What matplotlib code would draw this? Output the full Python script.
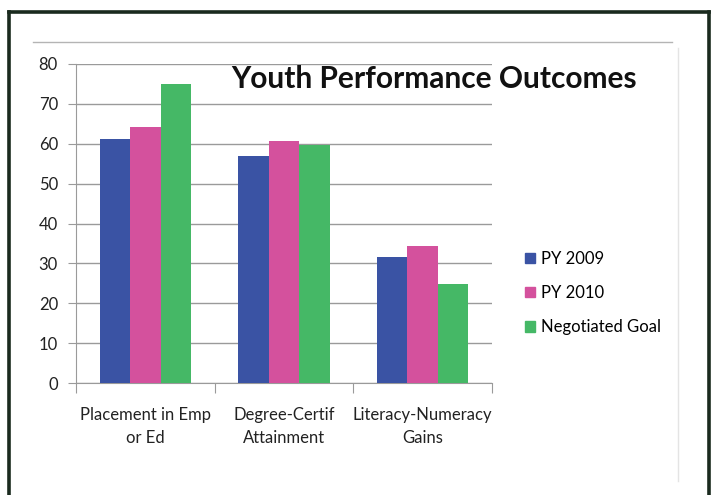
import numpy as np
import matplotlib
matplotlib.use("Agg")
import matplotlib.pyplot as plt
from matplotlib.lines import Line2D

categories = ["Placement in Emp\nor Ed", "Degree-Certif\nAttainment", "Literacy-Numeracy\nGains"]
series_names = ["PY 2009", "PY 2010", "Negotiated Goal"]
py2009 = [61.2, 57.0, 31.5]
py2010 = [64.3, 60.6, 34.3]
goal = [75.0, 59.8, 24.8]
colors = ["#3A53A4", "#D4519D", "#45B866"]
yticks = [0, 10, 20, 30, 40, 50, 60, 70, 80]

plt.rcParams['font.family'] = ['Lato', 'DejaVu Sans']

W, H = 713, 495
fig = plt.figure(figsize=(W / 100, H / 100), dpi=100)

def fx(px):
    return px / W

def fy(py):
    return 1 - py / H

# cadre noir extérieur
for xs, ys in [([9, 9], [12, 495]), ([9, 709], [12, 12]), ([709, 709], [12, 495])]:
    fig.add_artist(Line2D([fx(x) for x in xs], [fy(y) for y in ys], color="#1a2a1e", lw=2.6,
                          transform=fig.transFigure))
# bordure grise de la zone du graphique
fig.add_artist(Line2D([fx(33), fx(672)], [fy(42), fy(42)], color="#b4b4b4", lw=1,
                      transform=fig.transFigure))
fig.add_artist(Line2D([fx(678), fx(678)], [fy(48), fy(481)], color="#e4e4e4", lw=1,
                      transform=fig.transFigure))

ax = fig.add_axes([fx(76), fy(383), fx(492) - fx(76), fy(64) - fy(383)])

x = np.arange(len(categories))
w = 0.22
for i, (vals, name) in enumerate(zip([py2009, py2010, goal], series_names)):
    ax.bar(x + (i - 1) * w, vals, w, color=colors[i], label=name, zorder=3)

ax.set_xlim(-0.5, 2.5)
ax.set_ylim(0, 80)
ax.set_yticks(yticks)
ax.yaxis.grid(True, color="#9a9a9a", lw=1, zorder=0)
ax.tick_params(axis="y", length=6, color="#9a9a9a", labelsize=12, pad=7, labelcolor="#222222")

# graduations entre les catégories, étiquettes au centre
ax.set_xticks([-0.5, 0.5, 1.5, 2.5])
ax.set_xticklabels([])
ax.set_xticks(x, minor=True)
ax.set_xticklabels(categories, minor=True, fontsize=12, color="#222222", linespacing=1.55)
ax.tick_params(axis="x", which="major", length=7, color="#9a9a9a")
ax.tick_params(axis="x", which="minor", length=0, pad=17)

for s in ["top", "right"]:
    ax.spines[s].set_visible(False)
ax.spines["left"].set_color("#9a9a9a")
ax.spines["bottom"].set_color("#9a9a9a")

fig.text(fx(434), fy(79), "Youth Performance Outcomes", fontsize=21.5, fontweight="bold",
         ha="center", va="center", color="#111111")

handles = [plt.Rectangle((0, 0), 1, 1, color=c) for c in colors]
fig.legend(handles, series_names, loc="center left", bbox_to_anchor=(fx(510), fy(293)),
           frameon=False, fontsize=12, handlelength=0.6, handleheight=0.6,
           handletextpad=0.35, labelspacing=1.1)

fig.savefig("out.png", dpi=100)
